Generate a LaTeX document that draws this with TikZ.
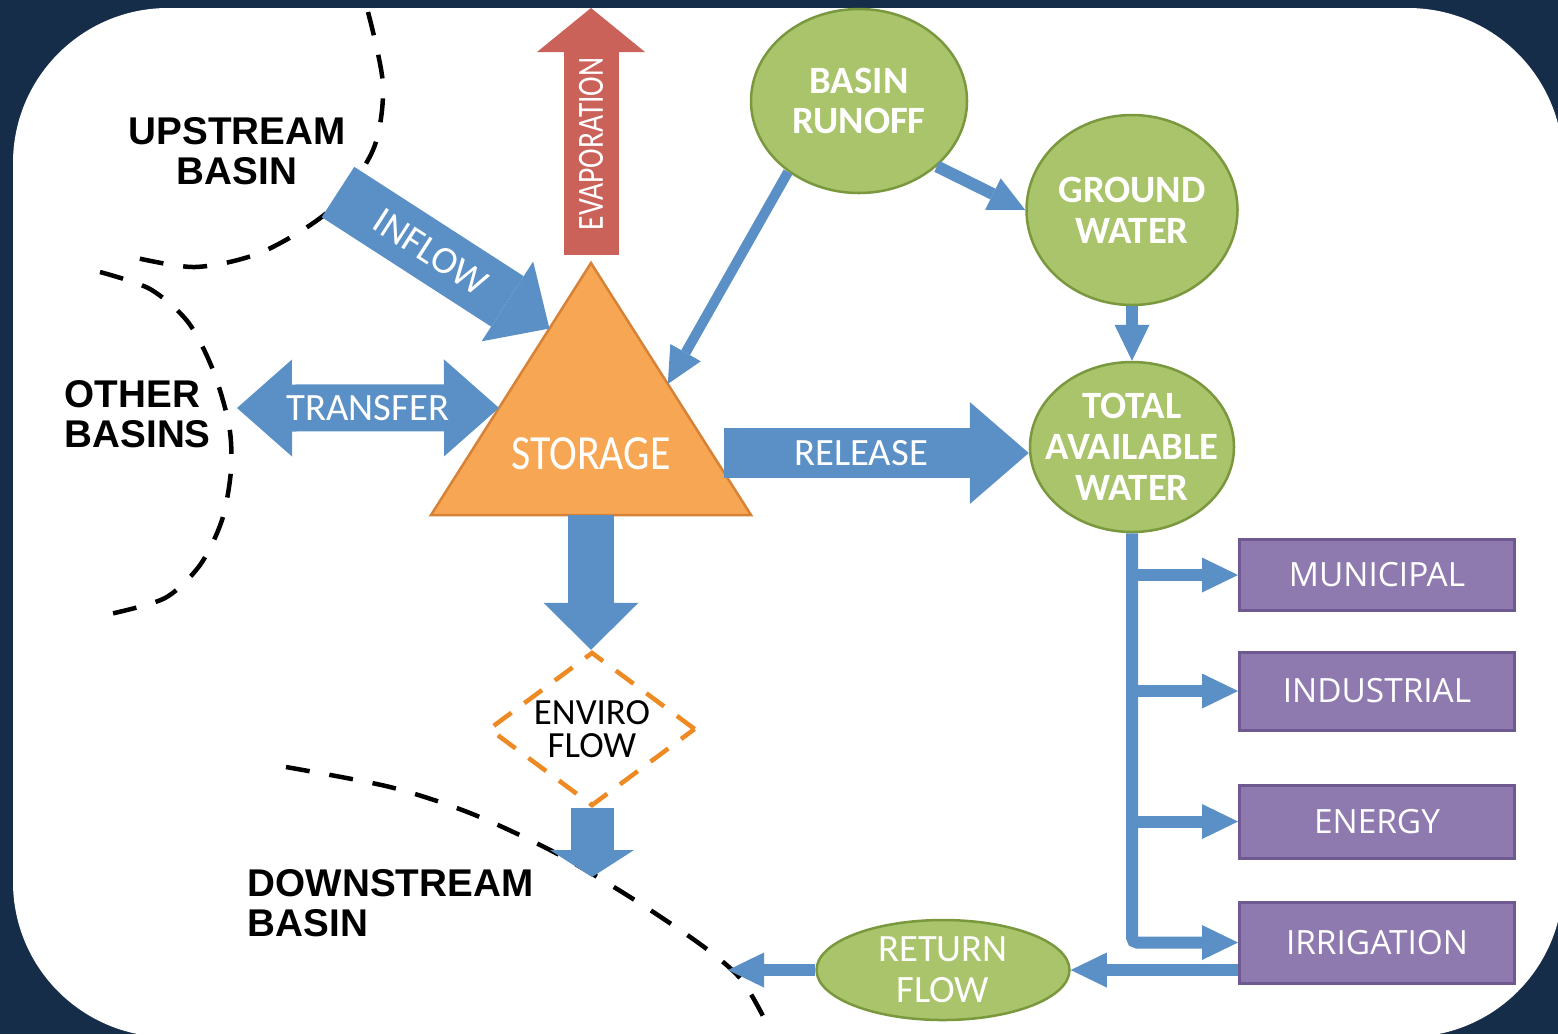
\documentclass[tikz,border=0pt]{standalone}
\usepackage{fontspec}
\setmainfont{Carlito}
\newfontfamily\basinfont{Liberation Sans}
\newfontfamily\boxfont{Open Sans}
\usepackage{tikz, graphicx}
\usetikzlibrary{shapes.geometric, arrows.meta, calc, positioning}

\definecolor{navy}{RGB}{22,45,74}
\definecolor{flowblue}{RGB}{91,144,198}
\definecolor{runoffgreen}{RGB}{169,196,106}
\definecolor{greenline}{RGB}{122,152,62}
\definecolor{storageorange}{RGB}{247,166,84}
\definecolor{orangeline}{RGB}{215,130,55}
\definecolor{evapred}{RGB}{203,98,90}
\definecolor{usepurple}{RGB}{143,122,175}
\definecolor{purpleline}{RGB}{110,90,145}
\definecolor{enviroorange}{RGB}{238,138,35}

\tikzstyle{greenball} = [ellipse, draw=greenline, line width=0.25mm, fill=runoffgreen, inner sep=-4mm, text=white, font=\fontsize{11}{11.6}\selectfont\bfseries]
\tikzstyle{purplebox} = [rectangle, draw=purpleline, line width=0.3mm, fill=usepurple, minimum width=27.5mm, inner sep=0pt, text=white, font=\boxfont\fontsize{9.5}{11}\selectfont]
\tikzstyle{storagetri} = [isosceles triangle, isosceles triangle stretches=true, shape border rotate=90, draw=orangeline, line width=0.25mm, fill=storageorange, minimum width=32mm, minimum height=25.2mm, inner sep=0pt, outer sep=0pt]
\tikzstyle{envirobox} = [diamond, draw=enviroorange, line width=0.45mm, dash pattern=on 2.2mm off 1.6mm, inner sep=-3mm, minimum width=20.7mm, minimum height=15.4mm, font=\fontsize{10.5}{9.6}\selectfont]
\tikzstyle{basintext} = [inner sep=0pt, font=\basinfont\bfseries\fontsize{11}{11.4}\selectfont]
\tikzstyle{flowtext} = [inner sep=0pt, text=white, font=\fontsize{11}{11}\selectfont]
\tikzstyle{basinline} = [line width=0.45mm, dash pattern=on 2.4mm off 2mm]
\tikzstyle{thinflow} = [draw=flowblue, line width=1.2mm, -{Triangle[width=3.5mm, length=3.6mm, line width=0pt]}]
\tikzstyle{evapflow} = [draw=evapred, line width=5.5mm, -{Triangle[width=10.8mm, length=4.4mm, line width=0pt]}]
\tikzstyle{twoway} = [draw=flowblue, line width=4.7mm, {Triangle[width=9.7mm, length=5.5mm, line width=0pt]}-{Triangle[width=9.7mm, length=5.5mm, line width=0pt]}]
\tikzset{bigflow/.style n args={3}{draw=flowblue, line width=#1, -{Triangle[width=#2, length=#3, line width=0pt]}}}

\begin{document}
\begin{tikzpicture}[x=0.1mm, y=-0.1mm, align=center]

      \useasboundingbox (0,0) rectangle (1558,1034);
      \fill[navy] (0,0) rectangle (1558,1034);
      \fill[white, rounded corners=15.5mm] (13,8) rectangle (1563,1037);

      % basin boundaries
      \draw[basinline] plot[smooth] coordinates {(368,12) (383,85) (373,150) (330,210) (262,252) (195,267) (128,256)};
      \draw[basinline] plot[smooth] coordinates {(100,272) (150,289) (188,322) (213,370) (229,425) (231,470) (222,520) (200,565) (165,598) (110,614)};
      \draw[basinline] plot[smooth] coordinates {(286,767) (390,787) (470,813) (552,851) (630,897) (700,944) (740,978) (763,1016)};
      \node (upstream) [basintext] at (237,151) {UPSTREAM\\BASIN};
      \node (other) [basintext, align=left, anchor=west] at (64,414) {OTHER\\BASINS};
      \node (downstream) [basintext, align=left, anchor=west] at (247,903) {DOWNSTREAM\\BASIN};

      \node (storage) [storagetri, anchor=apex] at (591,263) {};
      \node (storagetext) [flowtext, font=\fontsize{14}{14}\selectfont] at (591,454) {\scalebox{0.85}[1]{STORAGE}};
      \node (enviro) [envirobox] at (592,729) {ENVIRO\\FLOW};
      \node (runoff) [greenball, minimum width=21.6mm, minimum height=18.4mm] at (859,101) {BASIN\\RUNOFF};
      \node (ground) [greenball, minimum width=21.1mm, minimum height=19mm] at (1132,210) {GROUND\\WATER};
      \node (total) [greenball, minimum width=20.4mm, minimum height=17mm, node distance=23.7mm, below of=ground] {TOTAL\\AVAILABLE\\WATER};
      \node (return) [greenball, font=\fontsize{11}{11.6}\selectfont, minimum width=25.3mm, minimum height=10mm] at (943,970) {RETURN\\FLOW};
      \node (municipal) [purplebox, minimum height=7.1mm] at (1377,575) {MUNICIPAL};
      \node (industrial) [purplebox, minimum height=7.8mm, node distance=11.6mm, below of=municipal] {INDUSTRIAL};
      \node (energy) [purplebox, minimum height=7.3mm, node distance=13.05mm, below of=industrial] {ENERGY};
      \node (irrigation) [purplebox, minimum height=8.1mm, node distance=12.1mm, below of=energy] {IRRIGATION};

      \coordinate (inflowtail) at (338,192);
      \coordinate (transferend) at (237,408);
      \coordinate (evaptop) at (591,8);
      \coordinate (relstart) at (724,453);
      \coordinate (downtip) at (594,877);
      \coordinate (returntip) at (728,970);

      % block arrows
      \draw [evapflow] ([yshift=0.8mm]storage.apex) -- (evaptop) node[flowtext, pos=0.45, rotate=90, font=\fontsize{10.5}{10.5}\selectfont] {\scalebox{0.8}[1]{EVAPORATION}};
      \draw [bigflow={6mm}{9.5mm}{5mm}] (inflowtail) -- ($(storage.apex)!0.26!(storage.left corner)$) node[flowtext, pos=0.44, sloped] {INFLOW};
      \draw [twoway] (transferend) -- ($(storage.apex)!0.575!(storage.left corner)$) node[flowtext, midway] {TRANSFER};
      \draw [bigflow={5mm}{10.2mm}{5.9mm}] (relstart) -- (relstart -| total.west) node[flowtext, pos=0.45] {RELEASE};
      \draw [bigflow={4.6mm}{9.5mm}{4.7mm}] (storage.lower side) -- (storage.lower side |- enviro.north);
      \draw [bigflow={4.3mm}{8.4mm}{2.7mm}] (enviro.south) -- (enviro.south |- downtip);

      % thin arrows
      \draw [thinflow, line width=1mm] (runoff.225) -- ($(storage.apex)!0.48!(storage.right corner)$);
      \draw [thinflow] (runoff.-40) -- (ground.west);
      \draw [thinflow] (ground.south) -- (total.north);
      \draw [thinflow, rounded corners=0.5mm] (total.south) |- (irrigation.west);
      \foreach \sector in {municipal, industrial, energy}
        \draw [thinflow] (total.south |- \sector.west) -- (\sector.west);
      \draw [thinflow] (irrigation.west |- return.east) -- (return.east);
      \draw [thinflow] (return.west) -- (returntip);
    \end{tikzpicture}
\end{document}
